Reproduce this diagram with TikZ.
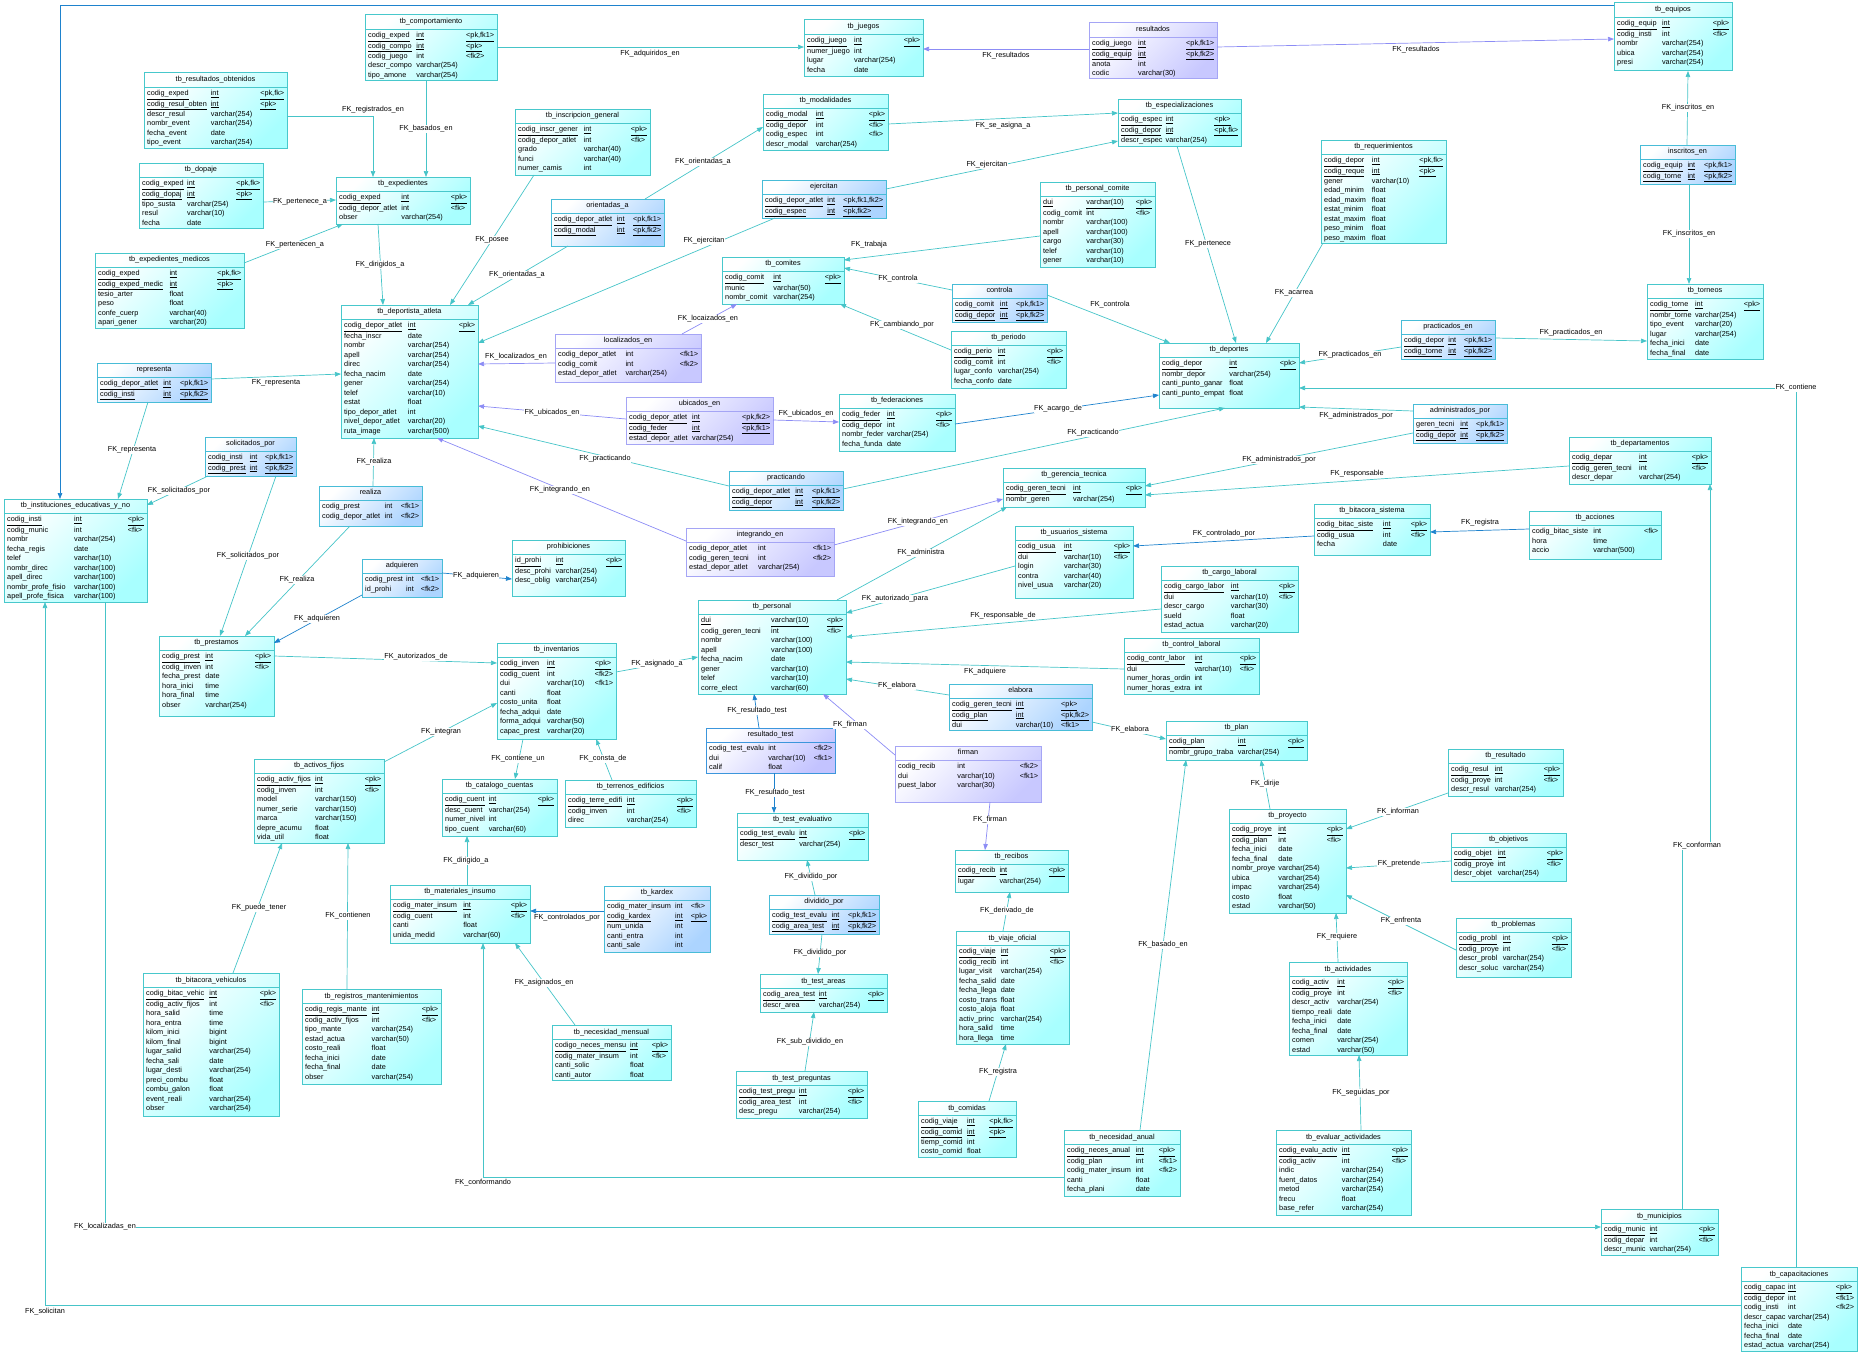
\documentclass[tikz,border=0pt]{standalone}
\usepackage{fontspec}
\setmainfont{Liberation Sans}
\usepackage{tikz}
\usetikzlibrary{arrows.meta,calc,positioning}

\definecolor{tblbd}{RGB}{72,200,204}
\definecolor{tblbg}{RGB}{168,255,255}
\definecolor{lnkbd}{RGB}{72,188,215}
\definecolor{lnkbg}{RGB}{172,212,255}
\definecolor{ascbd}{RGB}{165,165,245}
\definecolor{ascbg}{RGB}{200,200,255}
\definecolor{asbbd}{RGB}{60,150,220}
\definecolor{asbbg}{RGB}{195,195,255}
\definecolor{fkteal}{RGB}{70,196,200}
\definecolor{fkpurp}{RGB}{140,140,245}
\definecolor{fkblue}{RGB}{30,130,205}

\tikzset{
  tbl/.style={draw=tblbd, line width=1pt, outer sep=0pt, top color=white, bottom color=tblbg, shading angle=45},
  lnk/.style={draw=lnkbd, line width=1pt, outer sep=0pt, top color=white, bottom color=lnkbg, shading angle=45},
  asc/.style={draw=ascbd, line width=1pt, outer sep=0pt, top color=white, bottom color=ascbg, shading angle=45},
  asb/.style={draw=asbbd, line width=1pt, outer sep=0pt, top color=white, bottom color=asbbg, shading angle=45},
  fk/.style={draw=fkteal, line width=0.7pt, -{Triangle[length=6pt,width=4.5pt]}},
  fkp/.style={fk, draw=fkpurp},
  fkb/.style={fk, draw=fkblue},
  lbl/.style={fill=white, inner sep=0.5pt}
}

\setlength{\tabcolsep}{2pt}
\newcommand{\keyrow}[3]{\underline{#1}&\underline{#2}&\underline{#3}\\}
\newcommand{\colrow}[3]{#1&#2&#3\\}
% name, x, y, width, height, style, title, rows
\newcommand{\ertable}[8]{%
  \node[#6, minimum width=#4pt, minimum height=#5pt, anchor=north west] (#1) at (#2,#3) {};
  \draw[draw=#6bd, line width=0.8pt] ([yshift=-14pt]#1.north west) -- ([yshift=-14pt]#1.north east);
  \node[anchor=north, inner sep=0pt] (#1-title) at ([yshift=-3.5pt]#1.north) {#7};
  \node[anchor=north west, inner sep=0pt] (#1-rows) at ([xshift=3pt,yshift=-16pt]#1.north west)
    {\begin{tabular*}{\dimexpr#4pt-6pt\relax}{@{}l@{\extracolsep{\fill}}ll@{}}#8\end{tabular*}};
}

\begin{document}
\catcode`\_=12
\begin{tikzpicture}[x=1pt, y=-1pt, font=\fontsize{7.3}{9.5}\selectfont]
\useasboundingbox (0,0) rectangle (1858,1354);

% tables
\ertable{comport}{365}{15}{132}{66}{tbl}{tb_comportamiento}{\keyrow{codig_exped}{int}{<pk,fk1>}\keyrow{codig_compo}{int}{<pk>}\colrow{codig_juego}{int}{<fk2>}\colrow{descr_compo}{varchar(254)}{}\colrow{tipo_amone}{varchar(254)}{}}
\ertable{resobt}{144}{73}{143}{75}{tbl}{tb_resultados_obtenidos}{\keyrow{codig_exped}{int}{<pk,fk>}\keyrow{codig_resul_obten}{int}{<pk>}\colrow{descr_resul}{varchar(254)}{}\colrow{nombr_event}{varchar(254)}{}\colrow{fecha_event}{date}{}\colrow{tipo_event}{varchar(254)}{}}
\ertable{dopaje}{139}{163}{124}{65}{tbl}{tb_dopaje}{\keyrow{codig_exped}{int}{<pk,fk>}\keyrow{codig_dopaj}{int}{<pk>}\colrow{tipo_susta}{varchar(254)}{}\colrow{resul}{varchar(10)}{}\colrow{fecha}{date}{}}
\ertable{exped}{336}{177}{134}{47}{tbl}{tb_expedientes}{\keyrow{codig_exped}{int}{<pk>}\colrow{codig_depor_atlet}{int}{<fk>}\colrow{obser}{varchar(254)}{}}
\ertable{expmed}{95}{253}{149}{75}{tbl}{tb_expedientes_medicos}{\keyrow{codig_exped}{int}{<pk,fk>}\keyrow{codig_exped_medic}{int}{<pk>}\colrow{tesio_arter}{float}{}\colrow{peso}{float}{}\colrow{confe_cuerp}{varchar(40)}{}\colrow{apari_gener}{varchar(20)}{}}
\ertable{depor}{341}{305}{137}{133}{tbl}{tb_deportista_atleta}{\keyrow{codig_depor_atlet}{int}{<pk>}\colrow{fecha_inscr}{date}{}\colrow{nombr}{varchar(254)}{}\colrow{apell}{varchar(254)}{}\colrow{direc}{varchar(254)}{}\colrow{fecha_nacim}{date}{}\colrow{gener}{varchar(254)}{}\colrow{telef}{varchar(10)}{}\colrow{estat}{float}{}\colrow{tipo_depor_atlet}{int}{}\colrow{nivel_depor_atlet}{varchar(20)}{}\colrow{ruta_image}{varchar(500)}{}}
\ertable{repres}{97}{363}{114}{39}{lnk}{representa}{\keyrow{codig_depor_atlet}{int}{<pk,fk1>}\keyrow{codig_insti}{int}{<pk,fk2>}}
\ertable{solic}{205}{437}{91}{39}{lnk}{solicitados_por}{\keyrow{codig_insti}{int}{<pk,fk1>}\keyrow{codig_prest}{int}{<pk,fk2>}}
\ertable{juegos}{804}{20}{119}{57}{tbl}{tb_juegos}{\keyrow{codig_juego}{int}{<pk>}\colrow{numer_juego}{int}{}\colrow{lugar}{varchar(254)}{}\colrow{fecha}{date}{}}
\ertable{modal}{763}{94}{125}{56}{tbl}{tb_modalidades}{\keyrow{codig_modal}{int}{<pk>}\colrow{codig_depor}{int}{<fk>}\colrow{codig_espec}{int}{<fk>}\colrow{descr_modal}{varchar(254)}{}}
\ertable{inscr}{515}{109}{135}{66}{tbl}{tb_inscripcion_general}{\keyrow{codig_inscr_gener}{int}{<pk>}\colrow{codig_depor_atlet}{int}{<fk>}\colrow{grado}{varchar(40)}{}\colrow{funci}{varchar(40)}{}\colrow{numer_camis}{int}{}}
\ertable{orient}{551}{199}{113}{47}{lnk}{orientadas_a}{\keyrow{codig_depor_atlet}{int}{<pk,fk1>}\keyrow{codig_modal}{int}{<pk,fk2>}}
\ertable{ejerc}{762}{180}{124}{38}{lnk}{ejercitan}{\keyrow{codig_depor_atlet}{int}{<pk,fk1,fk2>}\keyrow{codig_espec}{int}{<pk,fk2>}}
\ertable{comites}{722}{257}{122}{47}{tbl}{tb_comites}{\keyrow{codig_comit}{int}{<pk>}\colrow{munic}{varchar(50)}{}\colrow{nombr_comit}{varchar(254)}{}}
\ertable{locen}{555}{334}{146}{48}{asc}{localizados_en}{\colrow{codig_depor_atlet}{int}{<fk1>}\colrow{codig_comit}{int}{<fk2>}\colrow{estad_depor_atlet}{varchar(254)}{}}
\ertable{ubien}{626}{397}{147}{47}{asc}{ubicados_en}{\keyrow{codig_depor_atlet}{int}{<pk,fk2>}\keyrow{codig_feder}{int}{<pk,fk1>}\colrow{estad_depor_atlet}{varchar(254)}{}}
\ertable{feder}{839}{394}{116}{57}{tbl}{tb_federaciones}{\keyrow{codig_feder}{int}{<pk>}\colrow{codig_depor}{int}{<fk>}\colrow{nombr_feder}{varchar(254)}{}\colrow{fecha_funda}{date}{}}
\ertable{resultados}{1089}{23}{128}{56}{asc}{resultados}{\keyrow{codig_juego}{int}{<pk,fk1>}\keyrow{codig_equip}{int}{<pk,fk2>}\colrow{anota}{int}{}\colrow{codic}{varchar(30)}{}}
\ertable{espec}{1118}{99}{123}{47}{tbl}{tb_especializaciones}{\keyrow{codig_espec}{int}{<pk>}\keyrow{codig_depor}{int}{<pk,fk>}\colrow{descr_espec}{varchar(254)}{}}
\ertable{requer}{1321}{140}{125}{103}{tbl}{tb_requerimientos}{\keyrow{codig_depor}{int}{<pk,fk>}\keyrow{codig_reque}{int}{<pk>}\colrow{gener}{varchar(10)}{}\colrow{edad_minim}{float}{}\colrow{edad_maxim}{float}{}\colrow{estat_minim}{float}{}\colrow{estat_maxim}{float}{}\colrow{peso_minim}{float}{}\colrow{peso_maxim}{float}{}}
\ertable{perscom}{1040}{182}{115}{85}{tbl}{tb_personal_comite}{\keyrow{dui}{varchar(10)}{<pk>}\colrow{codig_comit}{int}{<fk>}\colrow{nombr}{varchar(100)}{}\colrow{apell}{varchar(100)}{}\colrow{cargo}{varchar(30)}{}\colrow{telef}{varchar(10)}{}\colrow{gener}{varchar(10)}{}}
\ertable{contr}{952}{284}{95}{38}{lnk}{controla}{\keyrow{codig_comit}{int}{<pk,fk1>}\keyrow{codig_depor}{int}{<pk,fk2>}}
\ertable{perio}{951}{331}{115}{57}{tbl}{tb_periodo}{\keyrow{codig_perio}{int}{<pk>}\colrow{codig_comit}{int}{<fk>}\colrow{lugar_confo}{varchar(254)}{}\colrow{fecha_confo}{date}{}}
\ertable{deportes}{1159}{343}{140}{65}{tbl}{tb_deportes}{\keyrow{codig_depor}{int}{<pk>}\colrow{nombr_depor}{varchar(254)}{}\colrow{canti_punto_ganar}{float}{}\colrow{canti_punto_empat}{float}{}}
\ertable{equipos}{1614}{3}{118}{68}{tbl}{tb_equipos}{\keyrow{codig_equip}{int}{<pk>}\colrow{codig_insti}{int}{<fk>}\colrow{nombr}{varchar(254)}{}\colrow{ubica}{varchar(254)}{}\colrow{presi}{varchar(254)}{}}
\ertable{inscen}{1640}{145}{95}{39}{lnk}{inscritos_en}{\keyrow{codig_equip}{int}{<pk,fk1>}\keyrow{codig_torne}{int}{<pk,fk2>}}
\ertable{torneos}{1647}{284}{116}{75}{tbl}{tb_torneos}{\keyrow{codig_torne}{int}{<pk>}\colrow{nombr_torne}{varchar(254)}{}\colrow{tipo_event}{varchar(20)}{}\colrow{lugar}{varchar(254)}{}\colrow{fecha_inici}{date}{}\colrow{fecha_final}{date}{}}
\ertable{practen}{1401}{320}{94}{39}{lnk}{practicados_en}{\keyrow{codig_depor}{int}{<pk,fk1>}\keyrow{codig_torne}{int}{<pk,fk2>}}
\ertable{adminpor}{1413}{404}{94}{39}{lnk}{administrados_por}{\keyrow{geren_tecni}{int}{<pk,fk1>}\keyrow{codig_depor}{int}{<pk,fk2>}}
\ertable{depart}{1569}{437}{142}{47}{tbl}{tb_departamentos}{\keyrow{codig_depar}{int}{<pk>}\colrow{codig_geren_tecni}{int}{<fk>}\colrow{descr_depar}{varchar(254)}{}}
\ertable{instit}{4}{499}{143}{103}{tbl}{tb_instituciones_educativas_y_no}{\keyrow{codig_insti}{int}{<pk>}\colrow{codig_munic}{int}{<fk>}\colrow{nombr}{varchar(254)}{}\colrow{fecha_regis}{date}{}\colrow{telef}{varchar(10)}{}\colrow{nombr_direc}{varchar(100)}{}\colrow{apell_direc}{varchar(100)}{}\colrow{nombr_profe_fisio}{varchar(100)}{}\colrow{apell_profe_fisica}{varchar(100)}{}}
\ertable{realiza}{319}{486}{103}{40}{lnk}{realiza}{\colrow{codig_prest}{int}{<fk1>}\colrow{codig_depor_atlet}{int}{<fk2>}}
\ertable{adquie}{362}{559}{80}{38}{lnk}{adquieren}{\colrow{codig_prest}{int}{<fk1>}\colrow{id_prohi}{int}{<fk2>}}
\ertable{prest}{159}{636}{115}{80}{tbl}{tb_prestamos}{\keyrow{codig_prest}{int}{<pk>}\colrow{codig_inven}{int}{<fk>}\colrow{fecha_prest}{date}{}\colrow{hora_inici}{time}{}\colrow{hora_final}{time}{}\colrow{obser}{varchar(254)}{}}
\ertable{activos}{254}{759}{130}{84}{tbl}{tb_activos_fijos}{\keyrow{codig_activ_fijos}{int}{<pk>}\colrow{codig_inven}{int}{<fk>}\colrow{model}{varchar(150)}{}\colrow{numer_serie}{varchar(150)}{}\colrow{marca}{varchar(150)}{}\colrow{depre_acumu}{float}{}\colrow{vida_util}{float}{}}
\ertable{practic}{729}{471}{114}{39}{lnk}{practicando}{\keyrow{codig_depor_atlet}{int}{<pk,fk1>}\keyrow{codig_depor}{int}{<pk,fk2>}}
\ertable{integr}{686}{528}{148}{48}{asc}{integrando_en}{\colrow{codig_depor_atlet}{int}{<fk1>}\colrow{codig_geren_tecni}{int}{<fk2>}\colrow{estad_depor_atlet}{varchar(254)}{}}
\ertable{prohib}{512}{540}{113}{56}{tbl}{prohibiciones}{\keyrow{id_prohi}{int}{<pk>}\colrow{desc_prohi}{varchar(254)}{}\colrow{desc_oblig}{varchar(254)}{}}
\ertable{personal}{698}{600}{148}{94}{tbl}{tb_personal}{\keyrow{dui}{varchar(10)}{<pk>}\colrow{codig_geren_tecni}{int}{<fk>}\colrow{nombr}{varchar(100)}{}\colrow{apell}{varchar(100)}{}\colrow{fecha_nacim}{date}{}\colrow{gener}{varchar(10)}{}\colrow{telef}{varchar(10)}{}\colrow{corre_elect}{varchar(60)}{}}
\ertable{invent}{497}{643}{119}{96}{tbl}{tb_inventarios}{\keyrow{codig_inven}{int}{<pk>}\colrow{codig_cuent}{int}{<fk2>}\colrow{dui}{varchar(10)}{<fk1>}\colrow{canti}{float}{}\colrow{costo_unita}{float}{}\colrow{fecha_adqui}{date}{}\colrow{forma_adqui}{varchar(50)}{}\colrow{capac_prest}{varchar(20)}{}}
\ertable{restest}{706}{728}{129}{45}{asb}{resultado_test}{\colrow{codig_test_evalu}{int}{<fk2>}\colrow{dui}{varchar(10)}{<fk1>}\colrow{calif}{float}{}}
\ertable{catalog}{442}{779}{115}{57}{tbl}{tb_catalogo_cuentas}{\keyrow{codig_cuent}{int}{<pk>}\colrow{desc_cuent}{varchar(254)}{}\colrow{numer_nivel}{int}{}\colrow{tipo_cuent}{varchar(60)}{}}
\ertable{terren}{565}{780}{131}{47}{tbl}{tb_terrenos_edificios}{\keyrow{codig_terre_edifi}{int}{<pk>}\colrow{codig_inven}{int}{<fk>}\colrow{direc}{varchar(254)}{}}
\ertable{testev}{737}{813}{131}{47}{tbl}{tb_test_evaluativo}{\keyrow{codig_test_evalu}{int}{<pk>}\colrow{descr_test}{varchar(254)}{}}
\ertable{firman}{895}{746}{146}{56}{asc}{firman}{\colrow{codig_recib}{int}{<fk2>}\colrow{dui}{varchar(10)}{<fk1>}\colrow{puest_labor}{varchar(30)}{}}
\ertable{mater}{390}{885}{140}{58}{tbl}{tb_materiales_insumo}{\keyrow{codig_mater_insum}{int}{<pk>}\colrow{codig_cuent}{int}{<fk>}\colrow{canti}{float}{}\colrow{unida_medid}{varchar(60)}{}}
\ertable{kardex}{604}{886}{106}{66}{lnk}{tb_kardex}{\colrow{codig_mater_insum}{int}{<fk>}\keyrow{codig_kardex}{int}{<pk>}\colrow{num_unida}{int}{}\colrow{canti_entra}{int}{}\colrow{canti_sale}{int}{}}
\ertable{divpor}{769}{895}{110}{39}{lnk}{dividido_por}{\keyrow{codig_test_evalu}{int}{<pk,fk1>}\keyrow{codig_area_test}{int}{<pk,fk2>}}
\ertable{geren}{1003}{468}{142}{39}{tbl}{tb_gerencia_tecnica}{\keyrow{codig_geren_tecni}{int}{<pk>}\colrow{nombr_geren}{varchar(254)}{}}
\ertable{usuar}{1015}{526}{118}{72}{tbl}{tb_usuarios_sistema}{\keyrow{codig_usua}{int}{<pk>}\colrow{dui}{varchar(10)}{<fk>}\colrow{login}{varchar(30)}{}\colrow{contra}{varchar(40)}{}\colrow{nivel_usua}{varchar(20)}{}}
\ertable{bitsis}{1314}{504}{116}{51}{tbl}{tb_bitacora_sistema}{\keyrow{codig_bitac_siste}{int}{<pk>}\colrow{codig_usua}{int}{<fk>}\colrow{fecha}{date}{}}
\ertable{cargo}{1161}{566}{137}{66}{tbl}{tb_cargo_laboral}{\keyrow{codig_cargo_labor}{int}{<pk>}\colrow{dui}{varchar(10)}{<fk>}\colrow{descr_cargo}{varchar(30)}{}\colrow{sueld}{float}{}\colrow{estad_actua}{varchar(20)}{}}
\ertable{ctrllab}{1124}{638}{135}{56}{tbl}{tb_control_laboral}{\keyrow{codig_contr_labor}{int}{<pk>}\colrow{dui}{varchar(10)}{<fk>}\colrow{numer_horas_ordin}{int}{}\colrow{numer_horas_extra}{int}{}}
\ertable{elabora}{949}{684}{143}{46}{lnk}{elabora}{\keyrow{codig_geren_tecni}{int}{<pk>}\keyrow{codig_plan}{int}{<pk,fk2>}\colrow{dui}{varchar(10)}{<fk1>}}
\ertable{plan}{1166}{721}{141}{39}{tbl}{tb_plan}{\keyrow{codig_plan}{int}{<pk>}\colrow{nombr_grupo_traba}{varchar(254)}{}}
\ertable{recibos}{955}{850}{113}{42}{tbl}{tb_recibos}{\keyrow{codig_recib}{int}{<pk>}\colrow{lugar}{varchar(254)}{}}
\ertable{proyec}{1229}{809}{117}{104}{tbl}{tb_proyecto}{\keyrow{codig_proye}{int}{<pk>}\colrow{codig_plan}{int}{<fk>}\colrow{fecha_inici}{date}{}\colrow{fecha_final}{date}{}\colrow{nombr_proye}{varchar(254)}{}\colrow{ubica}{varchar(254)}{}\colrow{impac}{varchar(254)}{}\colrow{costo}{float}{}\colrow{estad}{varchar(50)}{}}
\ertable{acciones}{1529}{511}{132}{48}{tbl}{tb_acciones}{\colrow{codig_bitac_siste}{int}{<fk>}\colrow{hora}{time}{}\colrow{accio}{varchar(500)}{}}
\ertable{resul}{1448}{749}{115}{47}{tbl}{tb_resultado}{\keyrow{codig_resul}{int}{<pk>}\colrow{codig_proye}{int}{<fk>}\colrow{descr_resul}{varchar(254)}{}}
\ertable{objet}{1451}{833}{115}{48}{tbl}{tb_objetivos}{\keyrow{codig_objet}{int}{<pk>}\colrow{codig_proye}{int}{<fk>}\colrow{descr_objet}{varchar(254)}{}}
\ertable{bitveh}{143}{973}{136}{143}{tbl}{tb_bitacora_vehiculos}{\keyrow{codig_bitac_vehic}{int}{<pk>}\colrow{codig_activ_fijos}{int}{<fk>}\colrow{hora_salid}{time}{}\colrow{hora_entra}{time}{}\colrow{kilom_inici}{bigint}{}\colrow{kilom_final}{bigint}{}\colrow{lugar_salid}{varchar(254)}{}\colrow{fecha_sali}{date}{}\colrow{lugar_desti}{varchar(254)}{}\colrow{preci_combu}{float}{}\colrow{combu_galon}{float}{}\colrow{event_reali}{varchar(254)}{}\colrow{obser}{varchar(254)}{}}
\ertable{regman}{302}{989}{139}{95}{tbl}{tb_registros_mantenimientos}{\keyrow{codig_regis_mante}{int}{<pk>}\colrow{codig_activ_fijos}{int}{<fk>}\colrow{tipo_mante}{varchar(254)}{}\colrow{estad_actua}{varchar(50)}{}\colrow{costo_reali}{float}{}\colrow{fecha_inici}{date}{}\colrow{fecha_final}{date}{}\colrow{obser}{varchar(254)}{}}
\ertable{necmen}{552}{1025}{119}{55}{tbl}{tb_necesidad_mensual}{\keyrow{codigo_neces_mensu}{int}{<pk>}\colrow{codig_mater_insum}{int}{<fk>}\colrow{canti_solic}{float}{}\colrow{canti_autor}{float}{}}
\ertable{testar}{760}{974}{127}{38}{tbl}{tb_test_areas}{\keyrow{codig_area_test}{int}{<pk>}\colrow{descr_area}{varchar(254)}{}}
\ertable{testpr}{736}{1071}{131}{47}{tbl}{tb_test_preguntas}{\keyrow{codig_test_pregu}{int}{<pk>}\colrow{codig_area_test}{int}{<fk>}\colrow{desc_pregu}{varchar(254)}{}}
\ertable{viaje}{956}{931}{113}{113}{tbl}{tb_viaje_oficial}{\keyrow{codig_viaje}{int}{<pk>}\colrow{codig_recib}{int}{<fk>}\colrow{lugar_visit}{varchar(254)}{}\colrow{fecha_salid}{date}{}\colrow{fecha_llega}{date}{}\colrow{costo_trans}{float}{}\colrow{costo_aloja}{float}{}\colrow{activ_princ}{varchar(254)}{}\colrow{hora_salid}{time}{}\colrow{hora_llega}{time}{}}
\ertable{comidas}{918}{1101}{98}{56}{tbl}{tb_comidas}{\keyrow{codig_viaje}{int}{<pk,fk>}\keyrow{codig_comid}{int}{<pk>}\colrow{tiemp_comid}{int}{}\colrow{costo_comid}{float}{}}
\ertable{necanu}{1064}{1130}{116}{66}{tbl}{tb_necesidad_anual}{\keyrow{codig_neces_anual}{int}{<pk>}\colrow{codig_plan}{int}{<fk1>}\colrow{codig_mater_insum}{int}{<fk2>}\colrow{canti}{float}{}\colrow{fecha_plani}{date}{}}
\ertable{activ}{1289}{962}{118}{93}{tbl}{tb_actividades}{\keyrow{codig_activ}{int}{<pk>}\colrow{codig_proye}{int}{<fk>}\colrow{descr_activ}{varchar(254)}{}\colrow{tiempo_reali}{date}{}\colrow{fecha_inici}{date}{}\colrow{fecha_final}{date}{}\colrow{comen}{varchar(254)}{}\colrow{estad}{varchar(50)}{}}
\ertable{evalac}{1276}{1130}{135}{85}{tbl}{tb_evaluar_actividades}{\keyrow{codig_evalu_activ}{int}{<pk>}\colrow{codig_activ}{int}{<fk>}\colrow{indic}{varchar(254)}{}\colrow{fuent_datos}{varchar(254)}{}\colrow{metod}{varchar(254)}{}\colrow{frecu}{float}{}\colrow{base_refer}{varchar(254)}{}}
\ertable{problem}{1456}{918}{115}{59}{tbl}{tb_problemas}{\keyrow{codig_probl}{int}{<pk>}\colrow{codig_proye}{int}{<fk>}\colrow{descr_probl}{varchar(254)}{}\colrow{descr_soluc}{varchar(254)}{}}
\ertable{munic}{1601}{1209}{117}{46}{tbl}{tb_municipios}{\keyrow{codig_munic}{int}{<pk>}\colrow{codig_depar}{int}{<fk>}\colrow{descr_munic}{varchar(254)}{}}
\ertable{capac}{1741}{1267}{116}{84}{tbl}{tb_capacitaciones}{\keyrow{codig_capac}{int}{<pk>}\colrow{codig_depor}{int}{<fk1>}\colrow{codig_insti}{int}{<fk2>}\colrow{descr_capac}{varchar(254)}{}\colrow{fecha_inici}{date}{}\colrow{fecha_final}{date}{}\colrow{estad_actua}{varchar(254)}{}}

% references
\draw[fk] ([yshift=-32pt]comport.north east) -- ([yshift=-27pt]juegos.north west);
\draw[fkp] ([yshift=-26pt]resultados.north west) -- ([yshift=-29pt]juegos.north east);
\draw[fkp] ([yshift=-24pt]resultados.north east) -- ([yshift=-36pt]equipos.north west);
\draw[fk] ([yshift=-43pt]resobt.north east) -| ([xshift=37pt]exped.north west);
\draw[fk] ([xshift=61pt]comport.south west) -- ([xshift=90pt]exped.north west);
\draw[fk] ([yshift=-39pt]dopaje.north east) -- ([yshift=-23pt]exped.north west);
\draw[fk] ([yshift=-10pt]expmed.north east) -- ([xshift=7pt]exped.south west);
\draw[fk] ([xshift=42pt]exped.south west) -- ([xshift=42pt]depor.north west);
\draw[fk] ([xshift=19pt]inscr.south west) -- ([xshift=109pt]depor.north west);
\draw[fk] ([xshift=17pt]orient.south west) -- ([xshift=127pt]depor.north west);
\draw[fk] ([xshift=94pt]orient.north west) -- ([yshift=-33pt]modal.north west);
\draw[fk] ([xshift=13pt]ejerc.south west) -- ([yshift=-38pt]depor.north east);
\draw[fk] ([yshift=-9pt]ejerc.north east) -- ([yshift=-42pt]espec.north west);
\draw[fk] ([yshift=-30pt]modal.north east) -- ([yshift=-14pt]espec.north west);
\draw[fk] ([yshift=-54pt]perscom.north west) -- ([yshift=-3pt]comites.north east);
\draw[fk] ([yshift=-6pt]contr.north west) -- ([yshift=-11pt]comites.north east);
\draw[fk] ([yshift=-11pt]contr.north east) -- ([xshift=11pt]deportes.north west);
\draw[fk] ([yshift=-19pt]perio.north west) -- ([xshift=118pt]comites.south west);
\draw[fkp] ([xshift=127pt]locen.north west) -- ([xshift=15pt]comites.south west);
\draw[fkp] ([yshift=-29pt]locen.north west) -- ([yshift=-59pt]depor.north east);
\draw[fkp] ([yshift=-22pt]ubien.north west) -- ([yshift=-101pt]depor.north east);
\draw[fkp] ([yshift=-23pt]ubien.north east) -- ([yshift=-28pt]feder.north west);
\draw[fkb] ([yshift=-30pt]feder.north east) -- ([yshift=-52pt]deportes.north west);
\draw[fk] ([yshift=-15pt]practic.north west) -- ([yshift=-121pt]depor.north east);
\draw[fk] ([yshift=-18pt]practic.north east) -- ([xshift=66pt]deportes.south west);
\draw[fkp] ([yshift=-13pt]integr.north west) -- ([xshift=96pt]depor.south west);
\draw[fkp] ([yshift=-17pt]integr.north east) -- ([yshift=-31pt]geren.north west);
\draw[fk] ([xshift=139pt]personal.north west) -- ([xshift=4pt]geren.south west);
\draw[fk] ([yshift=-40pt]usuar.north west) -- ([yshift=-13pt]personal.north east);
\draw[fk] ([yshift=-43pt]cargo.north west) -- ([yshift=-37pt]personal.north east);
\draw[fk] ([yshift=-31pt]ctrllab.north west) -- ([yshift=-62pt]personal.north east);
\draw[fk] ([yshift=-11pt]elabora.north west) -- ([yshift=-79pt]personal.north east);
\draw[fk] ([yshift=-38pt]elabora.north east) -- ([yshift=-18pt]plan.north west);
\draw[fkp] ([yshift=-9pt]firman.north west) -- ([xshift=125pt]personal.south west);
\draw[fkp] ([xshift=95pt]firman.south west) -- ([xshift=30pt]recibos.north west);
\draw[fkb] ([xshift=53pt]restest.north west) -- ([xshift=56pt]personal.south west);
\draw[fkb] ([xshift=68pt]restest.south west) -- ([xshift=37pt]testev.north west);
\draw[fk] ([xshift=46pt]divpor.north west) -- ([xshift=70pt]testev.south west);
\draw[fk] ([xshift=53pt]divpor.south west) -- ([xshift=58pt]testar.north west);
\draw[fk] ([xshift=69pt]testpr.north west) -- ([xshift=54pt]testar.south west);
\draw[fk] ([yshift=-29pt]invent.north east) -- ([yshift=-57pt]personal.north west);
\draw[fk] ([yshift=-20pt]prest.north east) -- ([yshift=-20pt]invent.north west);
\draw[fk] ([yshift=-3pt]activos.north east) -- ([yshift=-60pt]invent.north west);
\draw[fk] ([xshift=26pt]invent.south west) -- ([xshift=73pt]catalog.north west);
\draw[fk] ([xshift=47pt]terren.north west) -- ([xshift=99pt]invent.south west);
\draw[fk] ([xshift=77pt]mater.north west) -- ([xshift=25pt]catalog.south west);
\draw[fkb] ([yshift=-25pt]kardex.north west) -- ([yshift=-26pt]mater.north east);
\draw[fk] ([xshift=23pt]necmen.north west) -- ([xshift=125pt]mater.south west);
\draw[fk] ([yshift=-47pt]necanu.north west) -| ([xshift=93pt]mater.south west);
\draw[fk] ([xshift=76pt]necanu.north west) -- ([xshift=20pt]plan.south west);
\draw[fk] ([xshift=41pt]proyec.north west) -- ([xshift=95pt]plan.south west);
\draw[fk] ([yshift=-44pt]resul.north west) -- ([yshift=-20pt]proyec.north east);
\draw[fk] ([yshift=-28pt]objet.north west) -- ([yshift=-59pt]proyec.north east);
\draw[fk] ([yshift=-32pt]problem.north west) -- ([yshift=-86pt]proyec.north east);
\draw[fk] ([xshift=49pt]activ.north west) -- ([xshift=107pt]proyec.south west);
\draw[fk] ([xshift=85pt]evalac.north west) -- ([xshift=70pt]activ.south west);
\draw[fk] ([xshift=47pt]viaje.north west) -- ([xshift=55pt]recibos.south west);
\draw[fk] ([xshift=71pt]comidas.north west) -- ([xshift=50pt]viaje.south west);
\draw[fk] ([xshift=90pt]bitveh.north west) -- ([xshift=28pt]activos.south west);
\draw[fk] ([xshift=45pt]regman.north west) -- ([xshift=94pt]activos.south west);
\draw[fk] ([xshift=3pt]solic.south west) -- ([yshift=-6pt]instit.north east);
\draw[fk] ([xshift=71pt]solic.south west) -- ([xshift=61pt]prest.north west);
\draw[fk] ([yshift=-16pt]repres.north east) -- ([yshift=-69pt]depor.north west);
\draw[fk] ([xshift=51pt]repres.south west) -- ([xshift=114pt]instit.north west);
\draw[fk] ([xshift=54pt]realiza.north west) -- ([xshift=33pt]depor.south west);
\draw[fk] ([xshift=31pt]realiza.south west) -- ([xshift=86pt]prest.north west);
\draw[fkb] ([yshift=-36pt]adquie.north west) -- ([yshift=-7pt]prest.north east);
\draw[fkb] ([yshift=-14pt]adquie.north east) -- ([yshift=-39pt]prohib.north west);
\draw[fkb] ([yshift=-2pt]equipos.north west) -| ([xshift=56pt]instit.north west);
\draw[fk] ([xshift=101pt]instit.south west) |- ([yshift=-18pt]munic.north west);
\draw[fk] ([yshift=-38pt]capac.north west) -| ([xshift=41pt]instit.south west);
\draw[fk] ([xshift=55pt]capac.north west) |- ([yshift=-45pt]deportes.north east);
\draw[fk] ([xshift=81pt]munic.north west) -- ++(0,-363) -| ([xshift=141pt]depart.south west);
\draw[fk] ([yshift=-29pt]depart.north west) -- ([yshift=-27pt]geren.north east);
\draw[fk] ([yshift=-29pt]adminpor.north west) -- ([yshift=-18pt]geren.north east);
\draw[fk] ([yshift=-7pt]adminpor.north west) -- ([yshift=-64pt]deportes.north east);
\draw[fk] ([yshift=-27pt]practen.north west) -- ([yshift=-20pt]deportes.north east);
\draw[fk] ([yshift=-18pt]practen.north east) -- ([yshift=-57pt]torneos.north west);
\draw[fk] ([xshift=47pt]inscen.north west) -- ([xshift=74pt]equipos.south west);
\draw[fk] ([xshift=49pt]inscen.south west) -- ([xshift=42pt]torneos.north west);
\draw[fk] ([xshift=59pt]espec.south west) -- ([xshift=77pt]deportes.north west);
\draw[fk] ([xshift=2pt]requer.south west) -- ([xshift=107pt]deportes.north west);
\draw[fkb] ([yshift=-18pt]acciones.north west) -- ([yshift=-28pt]bitsis.north east);
\draw[fkb] ([yshift=-32pt]bitsis.north west) -- ([yshift=-20pt]usuar.north east);

% reference names
\foreach \n/\x/\y/\t in {
  k01/650/54/FK_adquiridos_en, k02/1006/56/FK_resultados, k03/1416/50/FK_resultados,
  k04/373/110/FK_registrados_en, k05/426/129/FK_basados_en, k06/300/202/FK_pertenece_a,
  k07/295/245/FK_pertenecen_a, k08/380/265/FK_dirigidos_a, k09/492/240/FK_posee,
  k10/517/275/FK_orientadas_a, k11/703/162/FK_orientadas_a, k12/704/241/FK_ejercitan,
  k13/987/165/FK_ejercitan, k14/1003/126/FK_se_asigna_a, k15/869/245/FK_trabaja,
  k16/898/279/FK_controla, k17/1110/305/FK_controla, k18/902/325/FK_cambiando_por,
  k19/708/319/FK_locaizados_en, k20/516/357/FK_localizados_en, k21/552/413/FK_ubicados_en,
  k22/806/414/FK_ubicados_en, k23/1058/409/FK_acargo_de, k24/605/459/FK_practicando,
  k25/1093/433/FK_practicando, k26/560/490/FK_integrando_en, k27/918/522/FK_integrando_en,
  k28/921/553/FK_administra, k29/895/599/FK_autorizado_para, k30/1003/616/FK_responsable_de,
  k31/985/672/FK_adquiere, k32/897/686/FK_elabora, k33/1130/730/FK_elabora,
  k34/850/725/FK_firman, k35/990/820/FK_firman, k36/757/711/FK_resultado_test,
  k37/775/793/FK_resultado_test, k38/811/877/FK_dividido_por, k39/820/953/FK_dividido_por,
  k40/810/1042/FK_sub_dividido_en, k41/657/664/FK_asignado_a, k42/416/657/FK_autorizados_de,
  k43/441/732/FK_integran, k44/518/759/FK_contiene_un, k45/603/759/FK_consta_de,
  k46/466/861/FK_dirigido_a, k47/567/918/FK_controlados_por, k48/544/983/FK_asignados_en,
  k49/483/1183/FK_conformando, k50/1163/945/FK_basado_en, k51/1265/784/FK_dirije,
  k52/1398/812/FK_informan, k53/1399/864/FK_pretende, k54/1401/921/FK_enfrenta,
  k55/1337/937/FK_requiere, k56/1361/1093/FK_seguidas_por, k57/1007/911/FK_derivado_de,
  k58/998/1072/FK_registra, k59/259/908/FK_puede_tener, k60/348/916/FK_contienen,
  k61/179/491/FK_solicitados_por, k62/248/556/FK_solicitados_por, k63/276/383/FK_representa,
  k64/132/450/FK_representa, k65/374/462/FK_realiza, k66/297/580/FK_realiza,
  k67/317/619/FK_adquieren, k68/476/576/FK_adquieren, k70/105/1227/FK_localizadas_en,
  k71/45/1312/FK_solicitan, k72/1796/388/FK_contiene, k73/1697/846/FK_conforman,
  k74/1357/474/FK_responsable, k75/1279/460/FK_administrados_por, k76/1356/416/FK_administrados_por,
  k77/1350/355/FK_practicados_en, k78/1571/333/FK_practicados_en, k79/1688/108/FK_inscritos_en,
  k80/1689/234/FK_inscritos_en, k81/1208/244/FK_pertenece, k82/1294/293/FK_acarrea,
  k83/1480/523/FK_registra, k84/1224/534/FK_controlado_por}
  \node[lbl] (\n) at (\x,\y) {\t};
\end{tikzpicture}
\end{document}
